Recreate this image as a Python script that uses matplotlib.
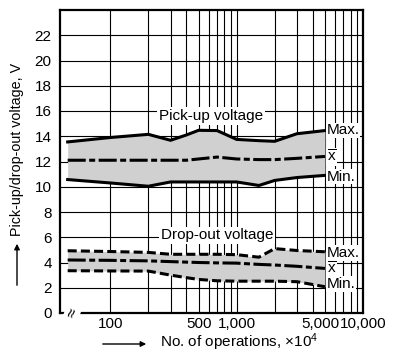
import matplotlib
matplotlib.use("Agg")
import matplotlib.pyplot as plt
import matplotlib.transforms as mtransforms
import numpy as np

plt.rcParams['font.family'] = ['Liberation Sans', 'DejaVu Sans']
plt.rcParams['mathtext.fontset'] = 'custom'
plt.rcParams['mathtext.rm'] = 'Liberation Sans'
plt.rcParams['mathtext.it'] = 'Liberation Sans:italic'
plt.rcParams['lines.scale_dashes'] = False

# ---- data ----
operations = [46, 100, 200, 300, 400, 500, 700, 1000, 1500, 2000, 3000, 5000]  # x10^4 (46 = initial)
pickup_max = [13.55, 13.9, 14.15, 13.68, 14.1, 14.47, 14.45, 13.75, 13.65, 13.6, 14.2, 14.45]
pickup_mean = [12.1, 12.1, 12.1, 12.1, 12.1, 12.2, 12.35, 12.2, 12.15, 12.15, 12.25, 12.4]
pickup_min = [10.57, 10.3, 10.04, 10.38, 10.38, 10.38, 10.38, 10.38, 10.1, 10.5, 10.73, 10.9]
dropout_max = [4.93, 4.87, 4.8, 4.65, 4.65, 4.65, 4.65, 4.62, 4.42, 5.1, 4.95, 4.85]
dropout_mean = [4.2, 4.17, 4.13, 4.07, 4.03, 4.0, 3.97, 3.95, 3.85, 3.8, 3.7, 3.53]
dropout_min = [3.35, 3.33, 3.32, 3.0, 2.8, 2.66, 2.55, 2.52, 2.52, 2.52, 2.48, 2.08]

x_ticks = [100, 500, 1000, 5000, 10000]
x_ticklabels = ['100', '500', '1,000', '5,000', '10,000']
y_ticks = list(range(0, 24, 2))

fig = plt.figure(figsize=(3.93, 3.52), dpi=100)
ax = fig.add_axes([60/393, 39/352, 303/393, 303/352])
ax.set_xscale('log')
ax.set_xlim(40, 10000)
ax.set_ylim(0, 24)

# grid lines
vgrid = list(range(100, 1000, 100)) + list(range(1000, 10001, 1000))
for v in vgrid:
    ax.axvline(v, color='black', lw=0.8, zorder=1)
for h in range(2, 24, 2):
    ax.axhline(h, color='black', lw=0.8, zorder=1)

fill_c = '#d0d0d0'
ax.fill_between(operations, pickup_min, pickup_max, color=fill_c, zorder=2, lw=0)
ax.fill_between(operations, dropout_min, dropout_max, color=fill_c, zorder=2, lw=0)

lw = 2.2
dashdot = (0, (13, 2.5, 4.3, 2.5))
dashed = (0, (6.5, 3))
ax.plot(operations, pickup_max, color='black', lw=lw, zorder=3, solid_joinstyle='miter')
ax.plot(operations, pickup_min, color='black', lw=lw, zorder=3, solid_joinstyle='miter')
ax.plot(operations, pickup_mean, color='black', lw=lw, ls=dashdot, zorder=3)
ax.plot(operations, dropout_max, color='black', lw=lw, ls=dashed, zorder=3)
ax.plot(operations, dropout_min, color='black', lw=lw, ls=dashed, zorder=3)
ax.plot(operations, dropout_mean, color='black', lw=lw, ls=dashdot, zorder=3)

bb = dict(facecolor='white', edgecolor='none', pad=0.6)
fs = 11
# end labels
lx = 5150
ax.text(lx, 14.47, 'Max.', fontsize=fs, va='center', ha='left', bbox=bb, zorder=4)
ax.text(lx, 12.35, r'$\overline{\mathrm{x}}$', fontsize=fs, va='center', ha='left', bbox=bb, zorder=4)
ax.text(lx, 10.8, 'Min.', fontsize=fs, va='center', ha='left', bbox=bb, zorder=4)
ax.text(lx, 4.75, 'Max.', fontsize=fs, va='center', ha='left', bbox=bb, zorder=4)
ax.text(lx, 3.5, r'$\overline{\mathrm{x}}$', fontsize=fs, va='center', ha='left', bbox=bb, zorder=4)
ax.text(lx, 2.3, 'Min.', fontsize=fs, va='center', ha='left', bbox=bb, zorder=4)

# group labels
ax.text(625, 15.6, 'Pick-up voltage', fontsize=fs, va='center', ha='center',
        bbox=dict(facecolor='white', edgecolor='none', pad=1.5), zorder=4)
ax.text(700, 6.15, 'Drop-out voltage', fontsize=fs, va='center', ha='center',
        bbox=dict(facecolor='white', edgecolor='none', pad=1.0), zorder=4)

# axis break symbol
ax.text(50, 0, '\u2248', fontsize=12, rotation=70, va='center', ha='center',
        bbox=dict(facecolor='white', edgecolor='none', pad=0.2), zorder=6, clip_on=False)

ax.set_xticks(x_ticks)
ax.set_xticklabels(x_ticklabels)
ax.xaxis.set_minor_locator(matplotlib.ticker.NullLocator())
ax.set_yticks(y_ticks)
ax.tick_params(axis='both', length=0, labelsize=fs)
ax.tick_params(axis='x', pad=3)
ax.tick_params(axis='y', pad=6)
# nudge "5,000" left as in the reference
lbl = ax.get_xticklabels()[3]
lbl.set_transform(lbl.get_transform() + mtransforms.ScaledTranslation(-5/100, 0, fig.dpi_scale_trans))
for s in ax.spines.values():
    s.set_linewidth(1.6)
    s.set_zorder(5)

# y label with arrow
fig.patches.append(matplotlib.patches.FancyArrowPatch(
    (17/393, (352-288)/352), (17/393, (352-241)/352), transform=fig.transFigure,
    arrowstyle='-|>', mutation_scale=8, color='black', lw=1.0))
fig.text(17/393, (352-236)/352, 'Pick-up/drop-out voltage, V', rotation=90,
         fontsize=10.3, ha='center', va='bottom')

# x label with arrow
fig.patches.append(matplotlib.patches.FancyArrowPatch(
    (100/393, 8/352), (149/393, 8/352), transform=fig.transFigure,
    arrowstyle='-|>', mutation_scale=8, color='black', lw=1.0))
fig.text(160/393, 5/352, r'No. of operations, $\times$10$^4$', fontsize=fs, ha='left', va='baseline')

fig.savefig('out.png', dpi=100)
